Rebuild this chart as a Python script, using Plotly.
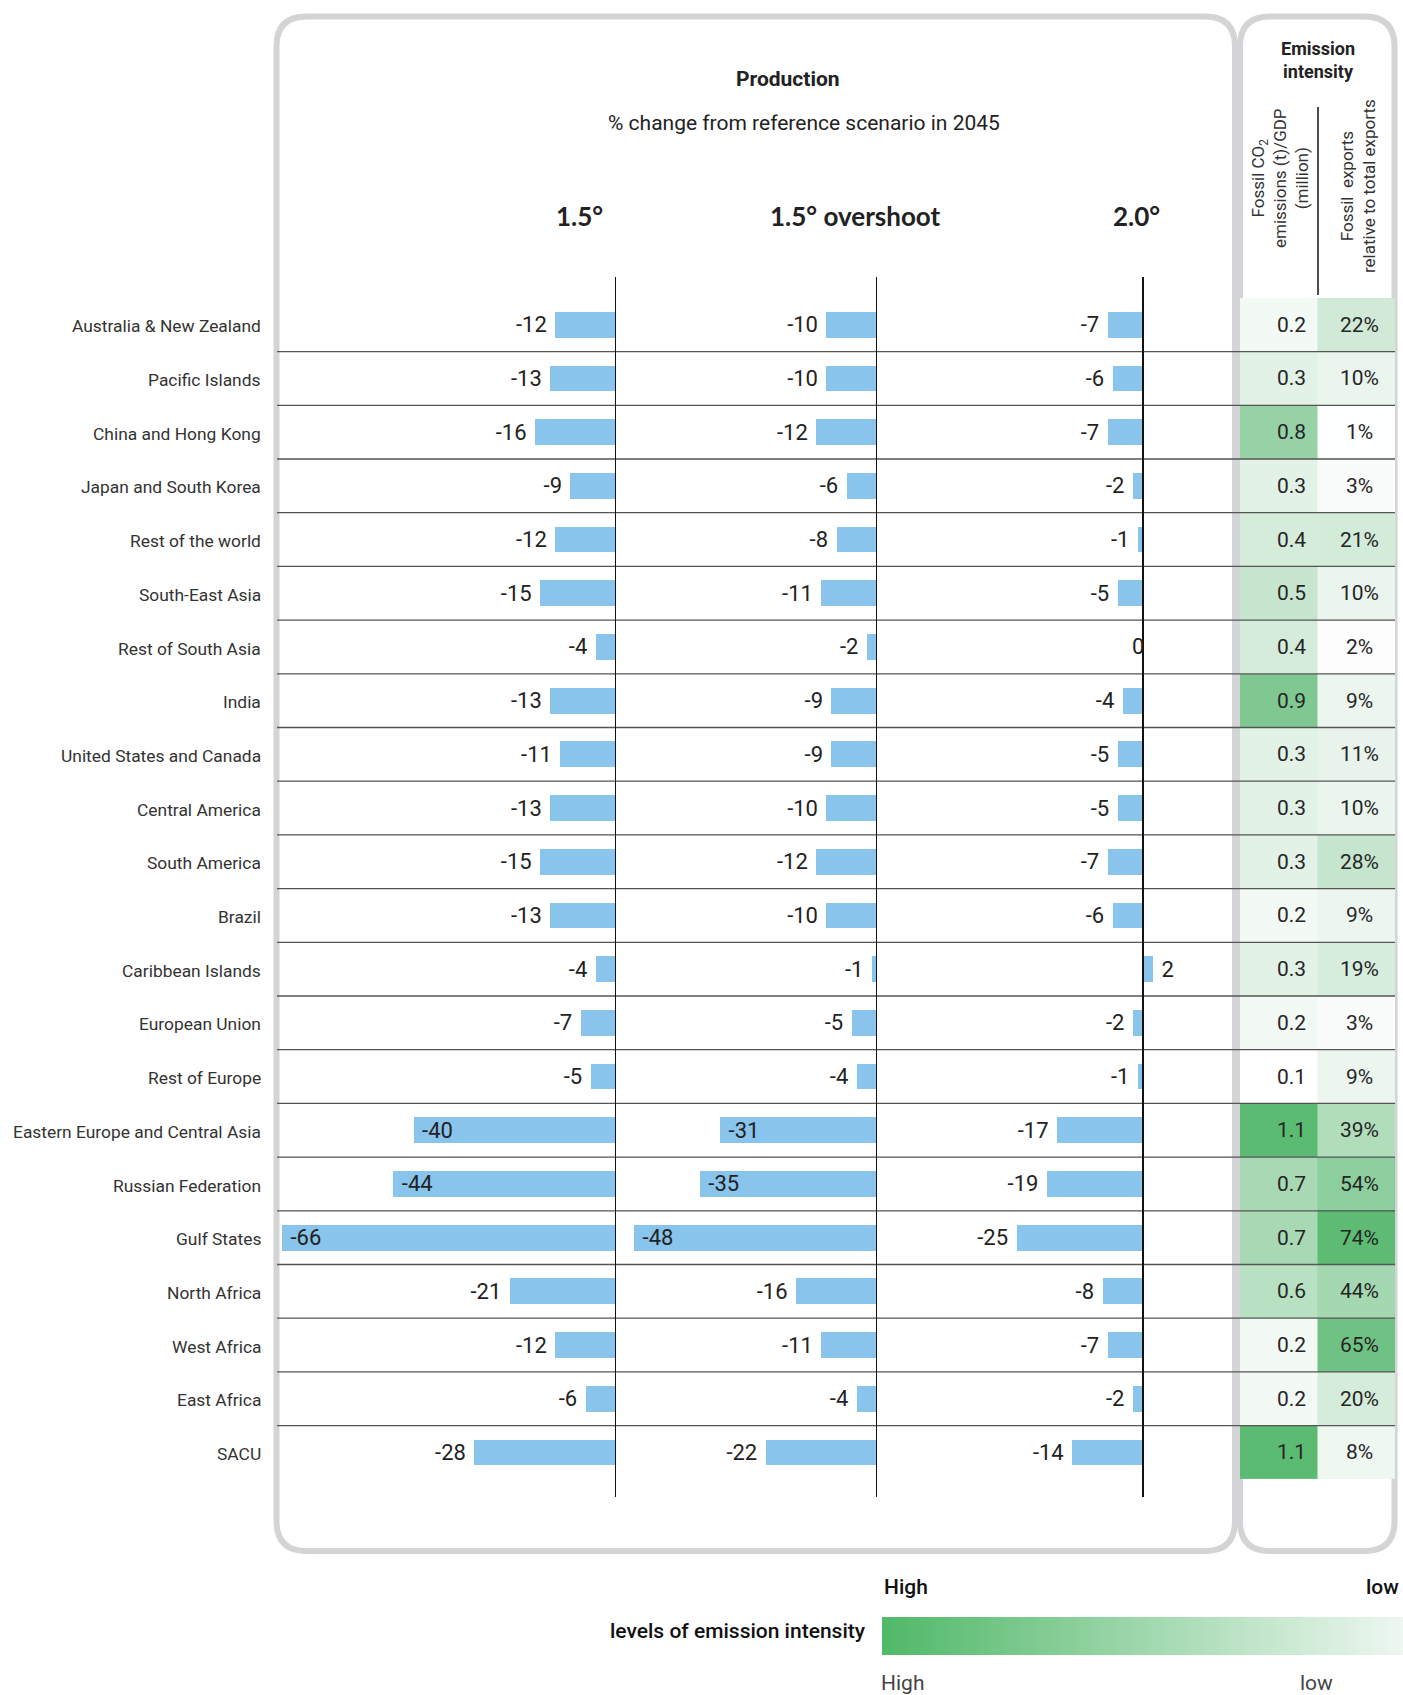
import plotly.graph_objects as go

W, H = 1403, 1695


def X(px):
    return px / W


def Y(py):
    return 1 - py / H


# ---------------- data ----------------
regions = [
    "Australia & New Zealand", "Pacific Islands", "China and Hong Kong",
    "Japan and South Korea", "Rest of the world", "South-East Asia",
    "Rest of South Asia", "India", "United States and Canada",
    "Central America", "South America", "Brazil", "Caribbean Islands",
    "European Union", "Rest of Europe", "Eastern Europe and Central Asia",
    "Russian Federation", "Gulf States", "North Africa", "West Africa",
    "East Africa", "SACU",
]
scenario_names = ["1.5°", "1.5° overshoot", "2.0°"]
prod_15 = [-12, -13, -16, -9, -12, -15, -4, -13, -11, -13, -15, -13, -4, -7, -5, -40, -44, -66, -21, -12, -6, -28]
prod_15_over = [-10, -10, -12, -6, -8, -11, -2, -9, -9, -10, -12, -10, -1, -5, -4, -31, -35, -48, -16, -11, -4, -22]
prod_20 = [-7, -6, -7, -2, -1, -5, 0, -4, -5, -5, -7, -6, 2, -2, -1, -17, -19, -25, -8, -7, -2, -14]
co2_gdp = [0.2, 0.3, 0.8, 0.3, 0.4, 0.5, 0.4, 0.9, 0.3, 0.3, 0.3, 0.2, 0.3, 0.2, 0.1, 1.1, 0.7, 0.7, 0.6, 0.2, 0.2, 1.1]
fossil_exports = [22, 10, 1, 3, 21, 10, 2, 9, 11, 10, 28, 9, 19, 3, 9, 39, 54, 74, 44, 65, 20, 8]

rows = list(range(len(regions)))

# ---------------- style ----------------
FONT = "Roboto"
BAR_COLOR = "#88c4eb"
TEXT = "#222222"
NB = "\u00a0"

fig = go.Figure()


def label_pos(v):
    if v == 0:
        return "none"
    return "inside" if v <= -30 else "outside"


def label_txt(v):
    if v > 0 or v <= -30:
        return NB + str(v)
    return str(v) + NB


series = [prod_15, prod_15_over, prod_20]
axes = ["x", "x2", "x3"]
for vals, ax in zip(series, axes):
    fig.add_trace(go.Bar(
        x=vals, y=rows, orientation="h", xaxis=ax, yaxis="y",
        marker=dict(color=BAR_COLOR, line=dict(width=0)),
        width=0.48,
        text=[label_txt(v) for v in vals],
        textposition=[label_pos(v) for v in vals],
        insidetextanchor="end",
        textangle=0,
        constraintext="none",
        textfont=dict(family=FONT, size=22, color=TEXT),
        cliponaxis=False,
        hoverinfo="skip", showlegend=False,
    ))

# emission intensity table (heatmaps); colour ramps white -> green
scale_co2 = [[0.0, "#ffffff"], [0.1, "#f3f9f5"], [0.2, "#e3f2e7"], [0.3, "#d5ecdb"],
             [0.4, "#c8e6cf"], [0.5, "#b8e0c2"], [0.6, "#a8d9b4"], [0.7, "#97d1a6"],
             [0.8, "#7fc892"], [1.0, "#5bbb72"]]
scale_exp = [[0.0, "#ffffff"], [0.0375, "#fafcfb"], [0.125, "#eaf5ed"], [0.25, "#d5ecdb"],
             [0.35, "#c6e5ce"], [0.4875, "#b1ddbb"], [0.55, "#a3d8b0"], [0.675, "#8ccf9d"],
             [0.8125, "#6fc284"], [0.925, "#5dbb74"], [1.0, "#52b86a"]]
fig.add_trace(go.Heatmap(
    z=[[v] for v in co2_gdp], x0=0, dx=1, y0=0, dy=1,
    xaxis="x4", yaxis="y", colorscale=scale_co2, zmin=0.1, zmax=1.1,
    showscale=False, hoverinfo="skip",
))
fig.add_trace(go.Heatmap(
    z=[[v] for v in fossil_exports], x0=1, dx=1, y0=0, dy=1,
    xaxis="x4", yaxis="y", colorscale=scale_exp, zmin=0, zmax=80,
    showscale=False, hoverinfo="skip",
))

# legend gradient (colorbar of an empty trace)
fig.add_trace(go.Scatter(
    x=[None], y=[None], xaxis="x4", yaxis="y", mode="markers",
    marker=dict(
        color=[0], cmin=0, cmax=1,
        colorscale=[[0, "#50b868"], [1, "#eef7f1"]],
        showscale=True,
        colorbar=dict(
            orientation="h", x=X(882), xanchor="left", xref="paper",
            y=Y(1655), yanchor="bottom", yref="paper",
            len=521, lenmode="pixels", thickness=38, thicknessmode="pixels",
            outlinewidth=0, showticklabels=False, ticks="", xpad=0, ypad=0,
        ),
    ),
    hoverinfo="skip", showlegend=False,
))

# ---------------- layout / axes ----------------
K = 5.06  # px per % unit
zero_px = [616, 877, 1143]
ranges = [(-67, 0), (-50, 0), (-27, 4)]
layout_axes = {}
for i, (z, (lo, hi)) in enumerate(zip(zero_px, ranges)):
    name = "xaxis" if i == 0 else f"xaxis{i + 1}"
    layout_axes[name] = dict(
        domain=[X(z + lo * K), X(z + hi * K)], range=[lo, hi],
        visible=False, anchor="y", fixedrange=True,
    )
layout_axes["xaxis4"] = dict(domain=[X(1240), X(1395)], range=[-0.5, 1.5],
                             visible=False, anchor="y", fixedrange=True)

row_top, row_h = 297.9, 53.7
n = len(regions)
layout_axes["yaxis"] = dict(
    domain=[Y(row_top + n * row_h), Y(row_top)], range=[n - 0.5, -0.5],
    visible=False, anchor="x", fixedrange=True,
)

fig.update_layout(
    width=W, height=H,
    margin=dict(l=0, r=0, t=0, b=0, autoexpand=False),
    paper_bgcolor="white", plot_bgcolor="white",
    bargap=0, showlegend=False, hovermode=False,
    font=dict(family=FONT, color=TEXT),
    **layout_axes,
)


# ---------------- shapes ----------------
def rrect(x0, y0, x1, y1, r):
    return (f"M {X(x0 + r)},{Y(y0)} L {X(x1 - r)},{Y(y0)} "
            f"Q {X(x1)},{Y(y0)} {X(x1)},{Y(y0 + r)} "
            f"L {X(x1)},{Y(y1 - r)} Q {X(x1)},{Y(y1)} {X(x1 - r)},{Y(y1)} "
            f"L {X(x0 + r)},{Y(y1)} Q {X(x0)},{Y(y1)} {X(x0)},{Y(y1 - r)} "
            f"L {X(x0)},{Y(y0 + r)} Q {X(x0)},{Y(y0)} {X(x0 + r)},{Y(y0)} Z")


shapes = []
for box in [(276.5, 16.5, 1235, 1551), (1240, 16.5, 1394.5, 1551)]:
    shapes.append(dict(type="path", xref="paper", yref="paper",
                       path=rrect(*box, 30),
                       line=dict(color="#d3d4d6", width=6), layer="below"))
for i in range(n - 1):
    shapes.append(dict(type="line", xref="paper", yref="y",
                       x0=X(277), x1=X(1395), y0=i + 0.5, y1=i + 0.5,
                       line=dict(color="#555555", width=1.3), layer="above"))
for ax in axes:
    shapes.append(dict(type="line", xref=ax, yref="paper", x0=0, x1=0,
                       y0=Y(1497), y1=Y(277),
                       line=dict(color="#111111", width=2), layer="above"))
shapes.append(dict(type="line", xref="paper", yref="paper",
                   x0=X(1318), x1=X(1318), y0=Y(295), y1=Y(107),
                   line=dict(color="#111111", width=1.5)))
fig.update_layout(shapes=shapes)

# ---------------- annotations ----------------
ann = []


def note(text, x, y, size, xanchor="center", color=TEXT, family=FONT,
         xref="paper", yref="paper", angle=0, weight=None, xshift=0):
    f = dict(family=family, size=size, color=color)
    if weight is not None:
        f["weight"] = weight
    ann.append(dict(text=text, xref=xref, yref=yref, x=x, y=y,
                    xanchor=xanchor, yanchor="middle", showarrow=False,
                    textangle=angle, font=f, xshift=xshift))


for i, r in enumerate(regions):
    note(r, X(263), i + 0.03, 17.4, xanchor="right", color="#333333", yref="y")

# zero-valued bars: label placed on the axis line
for vals, ax in zip(series, axes):
    for i, v in enumerate(vals):
        if v == 0:
            note(str(v), v, i, 22, xref=ax, yref="y", xshift=-5)

for i, (a, b) in enumerate(zip(co2_gdp, fossil_exports)):
    note(f"{a:.1f}", 0.375, i, 21, xanchor="right", color="#262626",
         xref="x4", yref="y")
    note(f"{b}%", 1.04, i, 21, color="#262626", xref="x4", yref="y")

note("<b>Production</b>", X(788), Y(79), 21)
note("% change from reference scenario in 2045", X(804), Y(123), 21)
for name, xc in zip(scenario_names, [579, 856, 1136]):
    note(f"<b>{name}</b>", X(xc), Y(216), 26, family="Lato")

note("<b>Emission<br>intensity</b>", X(1318), Y(60), 18)
note("Fossil CO<sub>2</sub><br>emissions (t)/GDP<br>(million)", X(1280), Y(178),
     17, color="#333333", angle=-90)
note("Fossil  exports<br>relative to total exports", X(1358), Y(186),
     17, color="#333333", angle=-90)

# legend labels
note("High", X(882), Y(1587), 21, xanchor="left", color="#111111", weight=500)
note("low", X(1401), Y(1587), 21, xanchor="right", color="#111111", weight=500)
note("levels of emission intensity", X(868), Y(1631), 21, xanchor="right",
     color="#111111", weight=500)
note("High", X(879), Y(1683), 21, xanchor="left", color="#444444")
note("low", X(1298), Y(1683), 21, xanchor="left", color="#444444")

fig.update_layout(annotations=ann)

fig.write_html("out.html",
               config={"displayModeBar": False, "staticPlot": True},
               post_script="document.body.style.margin='0';"
                           "document.body.style.overflow='hidden';")
